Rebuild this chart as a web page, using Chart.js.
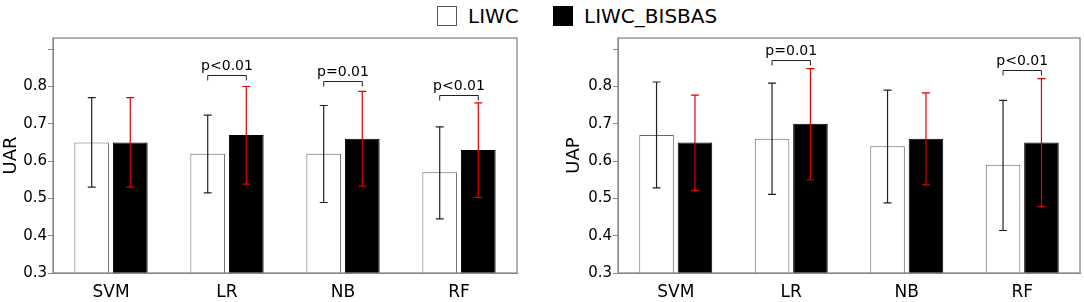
<!DOCTYPE html>
<html>
<head>
<meta charset="utf-8">
<script src="https://cdn.jsdelivr.net/npm/chart.js@4.4.0/dist/chart.umd.min.js"></script>
<style>
  body { margin: 0; background: #fff; font-family: "DejaVu Sans", sans-serif; }
  #wrap { position: relative; width: 1084px; height: 302px; }
  .leg { position: absolute; top: 4px; font-size: 20px; color: #000; display: flex; align-items: center; }
  .sw { width: 18px; height: 18px; border: 1px solid #555; margin-right: 11px; }
  #c1 { position: absolute; left: 0; top: 0; }
  #c2 { position: absolute; left: 560px; top: 0; }
</style>
</head>
<body>
<div id="wrap">
  <div class="leg" style="left:437px"><span class="sw" style="background:#fff"></span>LIWC</div>
  <div class="leg" style="left:553px"><span class="sw" style="background:#000;border-color:#000"></span>LIWC_BISBAS</div>
  <canvas id="c1" width="530" height="302"></canvas>
  <canvas id="c2" width="524" height="302"></canvas>
</div>
<script>
const categorias = ["SVM", "LR", "NB", "RF"];
const marcasY = [0.3, 0.4, 0.5, 0.6, 0.7, 0.8, 0.9];

// UAR
const uarLiwc = [0.65, 0.62, 0.62, 0.57];
const uarLiwcAlto = [0.77, 0.723, 0.749, 0.692];
const uarLiwcBajo = [0.53, 0.515, 0.489, 0.445];
const uarBisbas = [0.65, 0.67, 0.66, 0.63];
const uarBisbasAlto = [0.77, 0.80, 0.787, 0.756];
const uarBisbasBajo = [0.53, 0.538, 0.533, 0.503];
const uarCorchetes = [[1, 0.830, "p<0.01"], [2, 0.814, "p=0.01"], [3, 0.778, "p<0.01"]];

// UAP
const uapLiwc = [0.67, 0.66, 0.64, 0.59];
const uapLiwcAlto = [0.812, 0.809, 0.79, 0.763];
const uapLiwcBajo = [0.528, 0.511, 0.488, 0.414];
const uapBisbas = [0.65, 0.70, 0.66, 0.65];
const uapBisbasAlto = [0.777, 0.848, 0.783, 0.821];
const uapBisbasBajo = [0.521, 0.55, 0.536, 0.478];
const uapCorchetes = [[1, 0.870, "p=0.01"], [3, 0.843, "p<0.01"]];

const pluginExtras = {
    id: "extras",
    afterDatasetsDraw(chart, args, opts) {
        const ctx = chart.ctx;
        const y = chart.scales.y;
        const area = chart.chartArea;
        ctx.save();
        // barras de error
        chart.data.datasets.forEach((ds, i) => {
            const meta = chart.getDatasetMeta(i);
            ctx.strokeStyle = ds.errorColor;
            ctx.lineWidth = 1.2;
            meta.data.forEach((bar, j) => {
                const yt = y.getPixelForValue(ds.alto[j]);
                const yb = y.getPixelForValue(ds.bajo[j]);
                ctx.beginPath();
                ctx.moveTo(bar.x, yt); ctx.lineTo(bar.x, yb);
                ctx.moveTo(bar.x - 4, yt); ctx.lineTo(bar.x + 4, yt);
                ctx.moveTo(bar.x - 4, yb); ctx.lineTo(bar.x + 4, yb);
                ctx.stroke();
            });
        });
        // corchetes de significancia
        const m0 = chart.getDatasetMeta(0);
        const m1 = chart.getDatasetMeta(1);
        ctx.strokeStyle = "#222";
        ctx.fillStyle = "#000";
        ctx.lineWidth = 1;
        ctx.font = "14px 'DejaVu Sans'";
        ctx.textAlign = "center";
        ctx.textBaseline = "alphabetic";
        opts.corchetes.forEach(c => {
            const x0 = m0.data[c[0]].x, x1 = m1.data[c[0]].x;
            const yy = Math.round(y.getPixelForValue(c[1])) + 0.5;
            ctx.beginPath();
            ctx.moveTo(x0, yy + 5); ctx.lineTo(x0, yy); ctx.lineTo(x1, yy); ctx.lineTo(x1, yy + 5);
            ctx.stroke();
            ctx.fillText(c[2], (x0 + x1) / 2, yy - 6);
        });
        // marco
        ctx.strokeStyle = "#888";
        ctx.lineWidth = 1.3;
        ctx.strokeRect(area.left, area.top, area.right - area.left, area.bottom - area.top);
        ctx.restore();
    }
};

function crearGrafico(id, titulo, liwc, liwcAlto, liwcBajo, bis, bisAlto, bisBajo, corchetes, anchoY, derecha, tituloPad) {
    return new Chart(document.getElementById(id), {
        type: "bar",
        data: {
            labels: categorias,
            datasets: [
                { label: "LIWC", data: liwc, alto: liwcAlto, bajo: liwcBajo, errorColor: "#222",
                  backgroundColor: "#fff", borderColor: "#666", borderWidth: 1,
                  categoryPercentage: 0.665, barPercentage: 0.9 },
                { label: "LIWC_BISBAS", data: bis, alto: bisAlto, bajo: bisBajo, errorColor: "#e00000",
                  backgroundColor: "#000", borderColor: "#000", borderWidth: 1,
                  categoryPercentage: 0.665, barPercentage: 0.9 }
            ]
        },
        options: {
            responsive: false,
            animation: false,
            layout: { padding: { top: 38, right: derecha, left: 0, bottom: 0 } },
            plugins: { legend: { display: false }, tooltip: { enabled: false }, extras: { corchetes } },
            scales: {
                x: {
                    grid: { display: false, drawTicks: false },
                    border: { display: true, color: "#888" },
                    ticks: { color: "#000", font: { family: "DejaVu Sans", size: 17 }, padding: 9 },
                    afterFit: s => { s.height = 29; }
                },
                y: {
                    min: 0.3, max: 0.93,
                    afterBuildTicks: s => { s.ticks = marcasY.map(v => ({ value: v })); },
                    grid: { drawOnChartArea: false, tickLength: 5, color: "#888" },
                    border: { display: true, color: "#888" },
                    ticks: { color: "#000", font: { family: "DejaVu Sans", size: 15 }, padding: 1,
                             callback: v => (Math.abs(v - 0.9) < 1e-6 ? "" : v.toFixed(1)) },
                    title: { display: true, text: titulo, color: "#000",
                             font: { family: "DejaVu Sans", size: 18 }, padding: tituloPad },
                    afterFit: s => { s.width = anchoY; }
                }
            }
        },
        plugins: [pluginExtras]
    });
}

crearGrafico("c1", "UAR", uarLiwc, uarLiwcAlto, uarLiwcBajo, uarBisbas, uarBisbasAlto, uarBisbasBajo, uarCorchetes, 53, 13, 1);
crearGrafico("c2", "UAP", uapLiwc, uapLiwcAlto, uapLiwcBajo, uapBisbas, uapBisbasAlto, uapBisbasBajo, uapCorchetes, 58, 4, 4);
</script>
</body>
</html>
